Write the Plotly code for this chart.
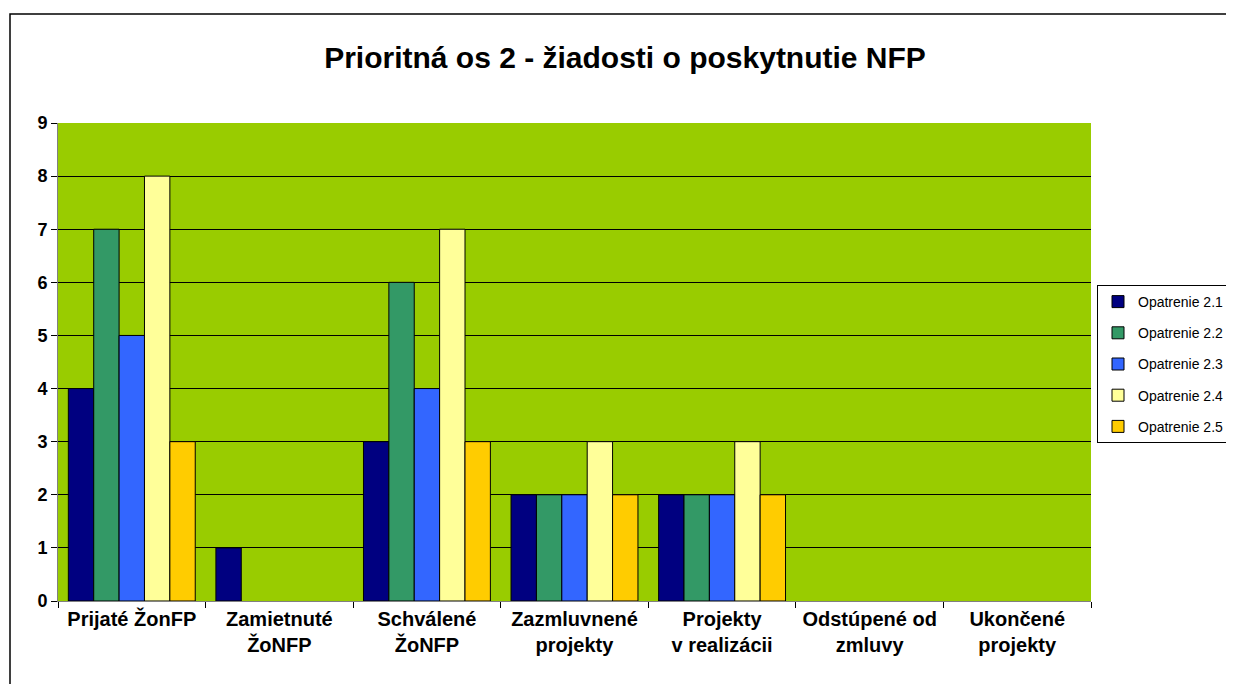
import plotly.graph_objects as go

categories = ["Prijaté ŽonFP", "Zamietnuté<br>ŽoNFP", "Schválené<br>ŽoNFP",
              "Zazmluvnené<br>projekty", "Projekty<br>v realizácii",
              "Odstúpené od<br>zmluvy", "Ukončené<br>projekty"]
series_names = ["Opatrenie 2.1", "Opatrenie 2.2", "Opatrenie 2.3", "Opatrenie 2.4", "Opatrenie 2.5"]
op21 = [4, 1, 3, 2, 2, 0, 0]
op22 = [7, 0, 6, 2, 2, 0, 0]
op23 = [5, 0, 4, 2, 2, 0, 0]
op24 = [8, 0, 7, 3, 3, 0, 0]
op25 = [3, 0, 3, 2, 2, 0, 0]
colors = ["#000080", "#339966", "#3366FF", "#FFFF99", "#FFCC00"]
title = "Prioritná os 2 - žiadosti o poskytnutie NFP"

OFF = 8  # page body margin
W, H = 1234 - OFF, 684 - OFF
# plot area in page pixels
L, R, T, B = 58 - OFF, 1091 - OFF, 123 - OFF, 601 - OFF

fig = go.Figure()
for i, (name, vals) in enumerate(zip(series_names, [op21, op22, op23, op24, op25])):
    fig.add_trace(go.Bar(
        x=categories, y=[v if v != 0 else None for v in vals], name=name,
        legendgroup=name,
        marker=dict(color=colors[i], line=dict(color="black", width=1)),
    ))

def px(x):
    return (x - OFF - L) / (R - L)

def py(y):
    return (B - (y - OFF)) / (B - T)

fig.update_layout(
    width=W, height=H,
    margin=dict(l=L, r=W - R, t=T, b=H - B, autoexpand=False),
    paper_bgcolor="white", plot_bgcolor="#99CC00",
    font=dict(family="Liberation Sans, Arial", color="black"),
    barmode="group", bargap=0.14, bargroupgap=0,
    title=dict(text=title, x=px(625), xref="paper", xanchor="center",
               y=1 - (57 - OFF) / H, yanchor="middle",
               font=dict(size=30, weight="bold", family="Liberation Sans, Arial")),
    legend=dict(x=px(1097), y=py(285), xanchor="left", yanchor="top",
                bordercolor="black", borderwidth=1, bgcolor="white",
                font=dict(size=14, family="Liberation Sans, Arial"),
                traceorder="grouped", tracegroupgap=10, itemwidth=30),
    xaxis=dict(type="category", tickson="boundaries", ticks="outside", ticklen=6,
               tickcolor="black", showline=True, linecolor="#808080", linewidth=1,
               tickfont=dict(size=20, weight="bold"), showgrid=False),
    yaxis=dict(range=[0, 9], dtick=1, ticks="outside", ticklen=6, tickcolor="black",
               showline=True, linecolor="#808080", linewidth=1,
               gridcolor="black", gridwidth=1, zeroline=False,
               tickfont=dict(size=18, weight="bold")),
    shapes=[dict(type="rect", xref="paper", yref="paper",
                 x0=px(10), x1=px(1260), y0=py(720), y1=py(14),
                 line=dict(color="black", width=1.5), layer="below")],
)

fig.write_html("out.html")
